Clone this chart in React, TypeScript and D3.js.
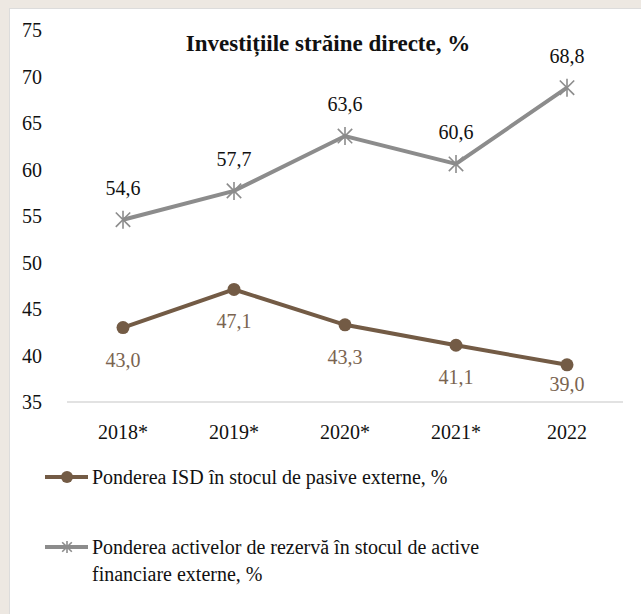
import React from "react";
import * as d3 from "d3";

const categories = ["2018*", "2019*", "2020*", "2021*", "2022"];
const isdShare = [43.0, 47.1, 43.3, 41.1, 39.0];
const reserveShare = [54.6, 57.7, 63.6, 60.6, 68.8];
const yTicks = [35, 40, 45, 50, 55, 60, 65, 70, 75];
const title = "Investițiile străine directe, %";
const legend1 = "Ponderea ISD în stocul de pasive externe, %";
const legend2a = "Ponderea activelor de rezervă în stocul de active";
const legend2b = "financiare externe, %";

const W = 641;
const H = 614;
const BROWN = "#735b45";
const BROWN_TXT = "#7a6450";
const GRAY = "#8c8c8c";
const BEIGE = "#ede8e2";
const FONT = "'Liberation Serif', 'DejaVu Serif', serif";

const fmt = (v: number) => v.toFixed(1).replace(".", ",");

function Star({ x, y, r, color }: { x: number; y: number; r: number; color: string }) {
  const a = r * 0.8;
  return (
    <g stroke={color} strokeWidth={1.6}>
      <line x1={x} y1={y - r} x2={x} y2={y + r} />
      <line x1={x - a} y1={y - a} x2={x + a} y2={y + a} />
      <line x1={x - a} y1={y + a} x2={x + a} y2={y - a} />
    </g>
  );
}

export default function App() {
  const x = d3.scalePoint<string>().domain(categories).range([123, 567]);
  const y = d3.scaleLinear().domain([35, 75]).range([402, 30]);
  const line = d3
    .line<number>()
    .x((_, i) => x(categories[i]) as number)
    .y((d) => y(d));

  return (
    <svg
      width={W}
      height={H}
      style={{ position: "absolute", left: 0, top: 0, background: "#fff" }}
      fontFamily={FONT}
    >
      <rect x={0} y={0} width={W} height={H} fill="#fff" />
      <rect x={0} y={0} width={W} height={8} fill={BEIGE} />
      <rect x={0} y={0} width={9} height={H} fill={BEIGE} />
      <line x1={9.5} y1={8} x2={9.5} y2={H} stroke="#dcdcdc" strokeWidth={1} />
      <line x1={9} y1={8.5} x2={W} y2={8.5} stroke="#dcdcdc" strokeWidth={1} />

      {/* y tick labels */}
      {yTicks.map((t) => (
        <text key={t} x={22} y={y(t)} dy="0.35em" fontSize={20} fill="#111">
          {t}
        </text>
      ))}
      {/* x axis */}
      <line x1={67} x2={623} y1={y(35)} y2={y(35)} stroke="#d9d9d9" strokeWidth={1.5} />
      {categories.map((c) => (
        <text key={c} x={x(c)} y={432} dy="0.35em" textAnchor="middle" fontSize={20} fill="#111">
          {c}
        </text>
      ))}

      <text x={328} y={43} dy="0.35em" textAnchor="middle" fontSize={23} fontWeight="bold" fill="#111">
        {title}
      </text>

      {/* gray series */}
      <path d={line(reserveShare) || ""} fill="none" stroke={GRAY} strokeWidth={4} />
      {reserveShare.map((v, i) => (
        <g key={"r" + i}>
          <Star x={x(categories[i]) as number} y={y(v)} r={9} color={GRAY} />
          <text x={x(categories[i])} y={y(v) - 32} dy="0.35em" textAnchor="middle" fontSize={20} fill="#111">
            {fmt(v)}
          </text>
        </g>
      ))}

      {/* brown series */}
      <path d={line(isdShare) || ""} fill="none" stroke={BROWN} strokeWidth={4} />
      {isdShare.map((v, i) => (
        <g key={"b" + i}>
          <circle cx={x(categories[i])} cy={y(v)} r={6.5} fill={BROWN} />
          <text
            x={x(categories[i])}
            y={Math.min(y(v) + 32, 384)}
            dy="0.35em"
            textAnchor="middle"
            fontSize={20}
            fill={BROWN_TXT}
          >
            {fmt(v)}
          </text>
        </g>
      ))}

      {/* legend */}
      <line x1={45} x2={88} y1={477} y2={477} stroke={BROWN} strokeWidth={4} />
      <circle cx={67} cy={477} r={6} fill={BROWN} />
      <text x={92} y={477} dy="0.35em" fontSize={20} fill="#111">
        {legend1}
      </text>

      <line x1={45} x2={88} y1={547} y2={547} stroke={GRAY} strokeWidth={4} />
      <Star x={67} y={547} r={6} color={GRAY} />
      <text x={92} y={547} dy="0.35em" fontSize={20} fill="#111">
        {legend2a}
      </text>
      <text x={92} y={574} dy="0.35em" fontSize={20} fill="#111">
        {legend2b}
      </text>
    </svg>
  );
}
